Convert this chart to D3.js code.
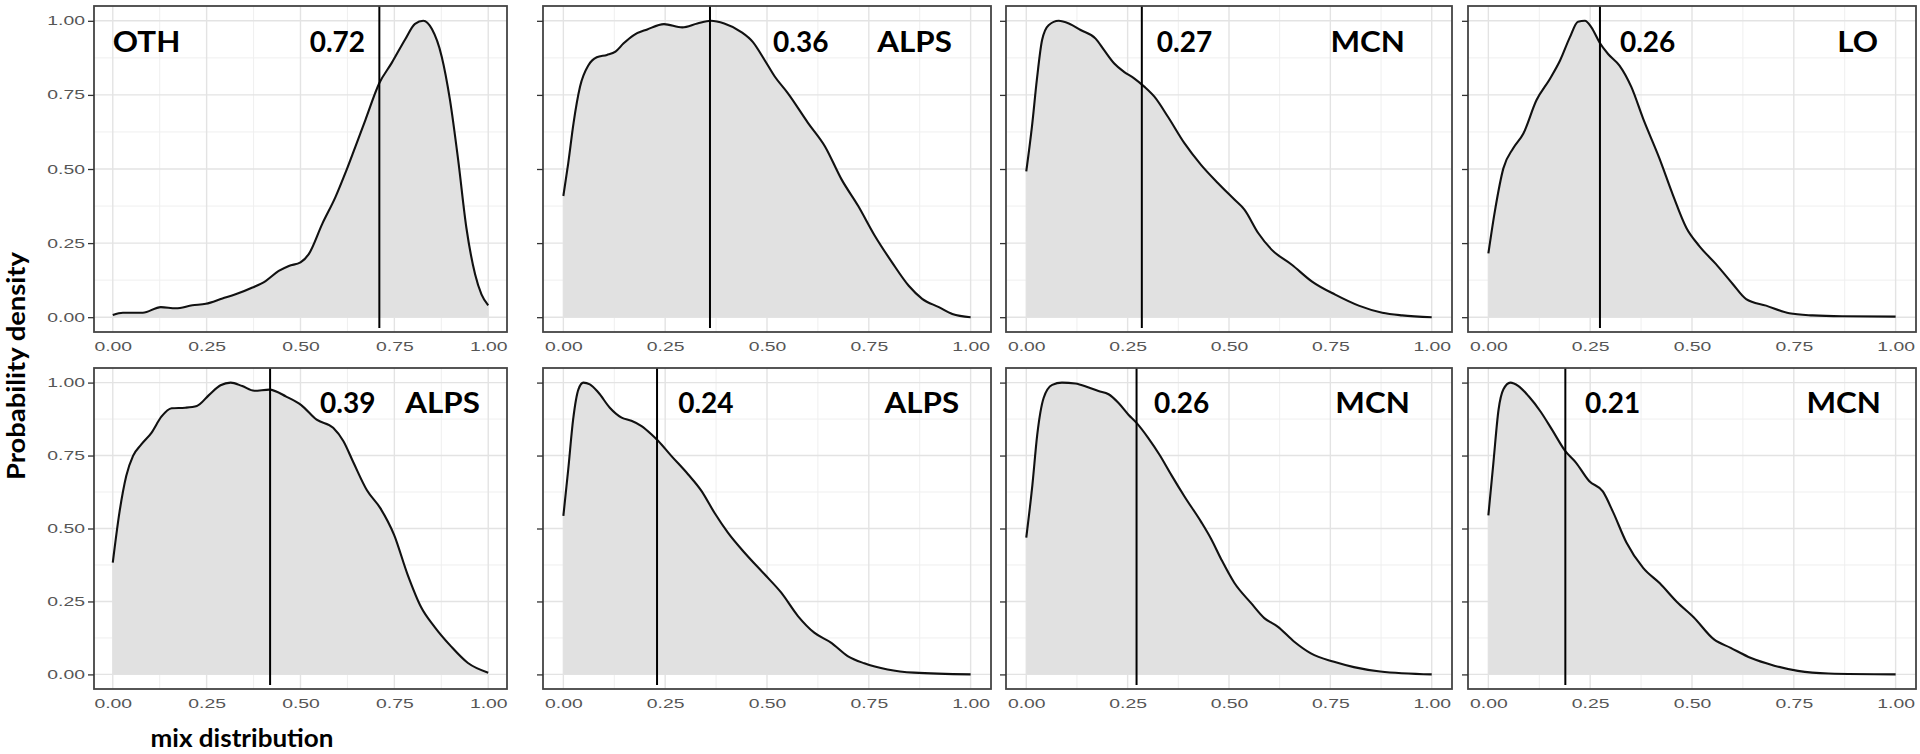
<!DOCTYPE html>
<html>
  <head>
    <meta charset="utf-8">
    <script src="https://cdn.jsdelivr.net/npm/d3@7"></script>
    <style>
      body { margin: 0; background: #fff; }
      .grid-major { stroke: #e3e3e3; stroke-width: 1.4; }
      .grid-minor { stroke: #efefef; stroke-width: 1; }
      .frame { fill: none; stroke: #444; stroke-width: 1.8; }
      .dens-area { fill: #e1e1e1; }
      .dens-line { fill: none; stroke: #111; stroke-width: 2.1; }
      .marker { stroke: #000; stroke-width: 2; }
      .tag { font-family: Lato, "Open Sans", sans-serif; font-weight: 700; font-size: 28px; fill: #000; }
      .axis .domain { display: none; }
      .axis line { stroke: #333; stroke-width: 1.3; }
      .axis text { font-family: "Liberation Sans", Arial, sans-serif; font-size: 12.5px; fill: #555; }
      .title { font-family: Lato, "Open Sans", sans-serif; font-weight: 700; font-size: 24px; fill: #000; }
    </style>
  </head>
  <body>
    <svg width="1920" height="754"></svg>
    <script>
      // panel names and the value written next to the marker line
      var panelNames = ['OTH', 'ALPS', 'MCN', 'LO', 'ALPS', 'ALPS', 'MCN', 'MCN'];
      var valueLabels = ['0.72', '0.36', '0.27', '0.26', '0.39', '0.24', '0.26', '0.21'];
      // where the vertical line sits on the x axis
      var markerX = [0.71, 0.36, 0.285, 0.274, 0.419, 0.23, 0.272, 0.189];
      var tickValues = [0, 0.25, 0.5, 0.75, 1];
      var minorValues = [0.125, 0.375, 0.625, 0.875];

      // density curves, [x, density]
      var dens1 = [[0,0.007],[0.027,0.015],[0.08,0.015],[0.128,0.034],[0.168,0.03],[0.212,0.04],[0.248,0.045],
        [0.292,0.063],[0.327,0.077],[0.372,0.10],[0.407,0.122],[0.442,0.156],[0.469,0.173],[0.5,0.185],
        [0.522,0.213],[0.558,0.315],[0.593,0.405],[0.619,0.485],[0.646,0.575],[0.673,0.666],[0.71,0.79],
        [0.743,0.858],[0.779,0.938],[0.805,0.99],[0.827,1.0],[0.85,0.972],[0.876,0.88],[0.898,0.734],
        [0.92,0.53],[0.942,0.30],[0.965,0.145],[0.982,0.077],[1,0.04]];
      var dens2 = [[0,0.409],[0.012,0.52],[0.025,0.655],[0.041,0.778],[0.062,0.851],[0.082,0.877],[0.107,0.885],
        [0.128,0.896],[0.148,0.924],[0.173,0.952],[0.206,0.971],[0.247,0.989],[0.292,0.978],[0.329,0.991],
        [0.362,1.0],[0.395,0.991],[0.436,0.963],[0.465,0.929],[0.494,0.868],[0.519,0.812],[0.551,0.756],
        [0.601,0.655],[0.642,0.577],[0.683,0.465],[0.724,0.375],[0.765,0.274],[0.807,0.185],[0.848,0.106],
        [0.881,0.062],[0.922,0.034],[0.955,0.011],[1,0.0]];
      var dens3 = [[0,0.492],[0.014,0.643],[0.026,0.80],[0.039,0.935],[0.055,0.985],[0.08,1.0],[0.105,0.991],
        [0.134,0.969],[0.171,0.94],[0.192,0.901],[0.217,0.856],[0.241,0.828],[0.266,0.806],[0.291,0.778],
        [0.316,0.744],[0.349,0.677],[0.39,0.587],[0.431,0.514],[0.473,0.452],[0.514,0.396],[0.538,0.363],
        [0.572,0.284],[0.605,0.228],[0.655,0.177],[0.704,0.121],[0.762,0.076],[0.82,0.039],[0.878,0.015],
        [0.927,0.006],[1,0.0]];
      var dens4 = [[0,0.215],[0.016,0.358],[0.037,0.503],[0.061,0.57],[0.086,0.62],[0.118,0.732],[0.151,0.804],
        [0.176,0.866],[0.2,0.944],[0.22,0.997],[0.237,1.0],[0.253,0.978],[0.273,0.927],[0.294,0.888],
        [0.322,0.849],[0.351,0.777],[0.38,0.67],[0.42,0.536],[0.453,0.413],[0.486,0.302],[0.518,0.24],
        [0.559,0.179],[0.6,0.112],[0.633,0.061],[0.682,0.039],[0.739,0.013],[0.796,0.006],[0.869,0.003],[1,0.002]];
      var dens5 = [[0,0.383],[0.018,0.557],[0.036,0.681],[0.054,0.749],[0.076,0.788],[0.103,0.828],[0.13,0.884],
        [0.157,0.912],[0.193,0.914],[0.224,0.92],[0.256,0.957],[0.287,0.991],[0.314,1.0],[0.345,0.988],
        [0.377,0.972],[0.417,0.976],[0.462,0.952],[0.502,0.923],[0.543,0.873],[0.587,0.845],[0.614,0.80],
        [0.641,0.726],[0.677,0.631],[0.713,0.569],[0.749,0.479],[0.785,0.343],[0.821,0.231],[0.857,0.163],
        [0.901,0.096],[0.946,0.039],[1,0.006]];
      var dens6 = [[0,0.543],[0.012,0.703],[0.024,0.874],[0.037,0.977],[0.049,1.0],[0.065,0.994],[0.086,0.966],
        [0.114,0.914],[0.143,0.88],[0.167,0.869],[0.192,0.851],[0.216,0.823],[0.233,0.80],[0.265,0.749],
        [0.306,0.686],[0.339,0.629],[0.371,0.554],[0.404,0.486],[0.445,0.417],[0.494,0.343],[0.535,0.28],
        [0.576,0.20],[0.616,0.143],[0.657,0.109],[0.698,0.063],[0.739,0.038],[0.796,0.017],[0.861,0.006],[1,0.0]];
      var dens7 = [[0,0.469],[0.015,0.648],[0.027,0.821],[0.043,0.948],[0.064,0.992],[0.088,1.0],[0.121,0.997],
        [0.154,0.983],[0.178,0.971],[0.203,0.96],[0.227,0.931],[0.252,0.89],[0.272,0.862],[0.301,0.81],
        [0.329,0.752],[0.358,0.683],[0.391,0.608],[0.432,0.521],[0.456,0.464],[0.481,0.394],[0.513,0.314],
        [0.554,0.245],[0.587,0.193],[0.62,0.164],[0.661,0.112],[0.702,0.072],[0.759,0.043],[0.808,0.025],
        [0.873,0.01],[1,0.0]];
      var dens8 = [[0,0.545],[0.012,0.72],[0.025,0.907],[0.037,0.977],[0.054,1.0],[0.074,0.988],[0.099,0.953],
        [0.128,0.901],[0.157,0.837],[0.188,0.767],[0.215,0.726],[0.248,0.662],[0.281,0.627],[0.306,0.557],
        [0.339,0.452],[0.38,0.365],[0.421,0.312],[0.463,0.248],[0.504,0.196],[0.554,0.12],[0.595,0.091],
        [0.645,0.056],[0.702,0.03],[0.76,0.012],[0.835,0.003],[1,0.0]];
      var densities = [dens1, dens2, dens3, dens4, dens5, dens6, dens7, dens8];

      // panel frames (pixels) and where the text sits inside each panel (x in data units)
      var cols = [{ l: 94, r: 507 }, { l: 543, r: 991 }, { l: 1006, r: 1452 }, { l: 1468, r: 1916 }];
      var rows = [{ t: 6, b: 332 }, { t: 368, b: 689 }];
      var tagLayout = [
        { vx: 0.672, va: 'end', nx: 0.0, na: 'start' },
        { vx: 0.515, va: 'start', nx: 0.954, na: 'end' },
        { vx: 0.322, va: 'start', nx: 0.934, na: 'end' },
        { vx: 0.323, va: 'start', nx: 0.957, na: 'end' },
        { vx: 0.552, va: 'start', nx: 0.978, na: 'end' },
        { vx: 0.282, va: 'start', nx: 0.972, na: 'end' },
        { vx: 0.315, va: 'start', nx: 0.946, na: 'end' },
        { vx: 0.237, va: 'start', nx: 0.964, na: 'end' }
      ];
      var tagY = 0.895;
      var stretch = 1.55;     // tick labels in the picture are wide
      var nameStretch = 1.12; // so are the panel names

      var svg = d3.select('svg');
      var fmt = d3.format('.2f');

      densities.forEach(function (dens, i) {
        var col = cols[i % 4], row = rows[Math.floor(i / 4)];
        var x = d3.scaleLinear().domain([-0.05, 1.05]).range([col.l, col.r]);
        var y = d3.scaleLinear().domain([-0.05, 1.05]).range([row.b, row.t]);
        var g = svg.append('g').attr('class', 'panel');

        // grid
        g.selectAll('.gx-minor').data(minorValues).enter().append('line')
          .attr('class', 'grid-minor')
          .attr('x1', x).attr('x2', x).attr('y1', row.t).attr('y2', row.b);
        g.selectAll('.gy-minor').data(minorValues).enter().append('line')
          .attr('class', 'grid-minor')
          .attr('y1', y).attr('y2', y).attr('x1', col.l).attr('x2', col.r);
        g.selectAll('.gx-major').data(tickValues).enter().append('line')
          .attr('class', 'grid-major')
          .attr('x1', x).attr('x2', x).attr('y1', row.t).attr('y2', row.b);
        g.selectAll('.gy-major').data(tickValues).enter().append('line')
          .attr('class', 'grid-major')
          .attr('y1', y).attr('y2', y).attr('x1', col.l).attr('x2', col.r);

        // density
        var area = d3.area()
          .x(function (d) { return x(d[0]); })
          .y0(y(0))
          .y1(function (d) { return y(d[1]); })
          .curve(d3.curveMonotoneX);
        var line = d3.line()
          .x(function (d) { return x(d[0]); })
          .y(function (d) { return y(d[1]); })
          .curve(d3.curveMonotoneX);
        g.append('path').attr('class', 'dens-area').attr('d', area(dens));
        g.append('path').attr('class', 'dens-line').attr('d', line(dens));

        // marker line
        g.append('line').attr('class', 'marker')
          .attr('x1', x(markerX[i])).attr('x2', x(markerX[i]))
          .attr('y1', row.t).attr('y2', row.b - 4);

        g.append('rect').attr('class', 'frame')
          .attr('x', col.l).attr('y', row.t)
          .attr('width', col.r - col.l).attr('height', row.b - row.t);

        // axes
        var yAxis = d3.axisLeft(y).tickValues(tickValues).tickFormat(fmt).tickSize(6).tickPadding(3);
        var yG = g.append('g').attr('class', 'axis')
          .attr('transform', 'translate(' + col.l + ',0)').call(yAxis);
        if (i % 4 === 0) {
          yG.selectAll('text')
            .attr('x', -9 / stretch)
            .attr('transform', 'scale(' + stretch + ',1)');
        } else {
          yG.selectAll('text').remove();
        }
        var xAxis = d3.axisBottom(x).tickValues(tickValues).tickFormat(fmt).tickSize(0).tickPadding(10);
        var xG = g.append('g').attr('class', 'axis')
          .attr('transform', 'translate(0,' + row.b + ')').call(xAxis);
        xG.selectAll('text').attr('transform', 'scale(' + stretch + ',1)');

        // labels
        var lay = tagLayout[i];
        g.append('text').attr('class', 'tag')
          .attr('x', x(lay.vx)).attr('y', y(tagY))
          .attr('text-anchor', lay.va)
          .text(valueLabels[i]);
        g.append('text').attr('class', 'tag')
          .attr('transform', 'translate(' + x(lay.nx) + ',' + y(tagY) + ') scale(' + nameStretch + ',1)')
          .attr('text-anchor', lay.na)
          .text(panelNames[i]);
      });

      svg.append('text').attr('class', 'title')
        .attr('transform', 'translate(25,366) rotate(-90)')
        .attr('text-anchor', 'middle')
        .attr('textLength', 228).attr('lengthAdjust', 'spacingAndGlyphs')
        .text('Probability density');
      svg.append('text').attr('class', 'title')
        .attr('x', 242).attr('y', 747)
        .attr('text-anchor', 'middle')
        .attr('textLength', 183).attr('lengthAdjust', 'spacingAndGlyphs')
        .text('mix distribution');
    </script>
  </body>
</html>
